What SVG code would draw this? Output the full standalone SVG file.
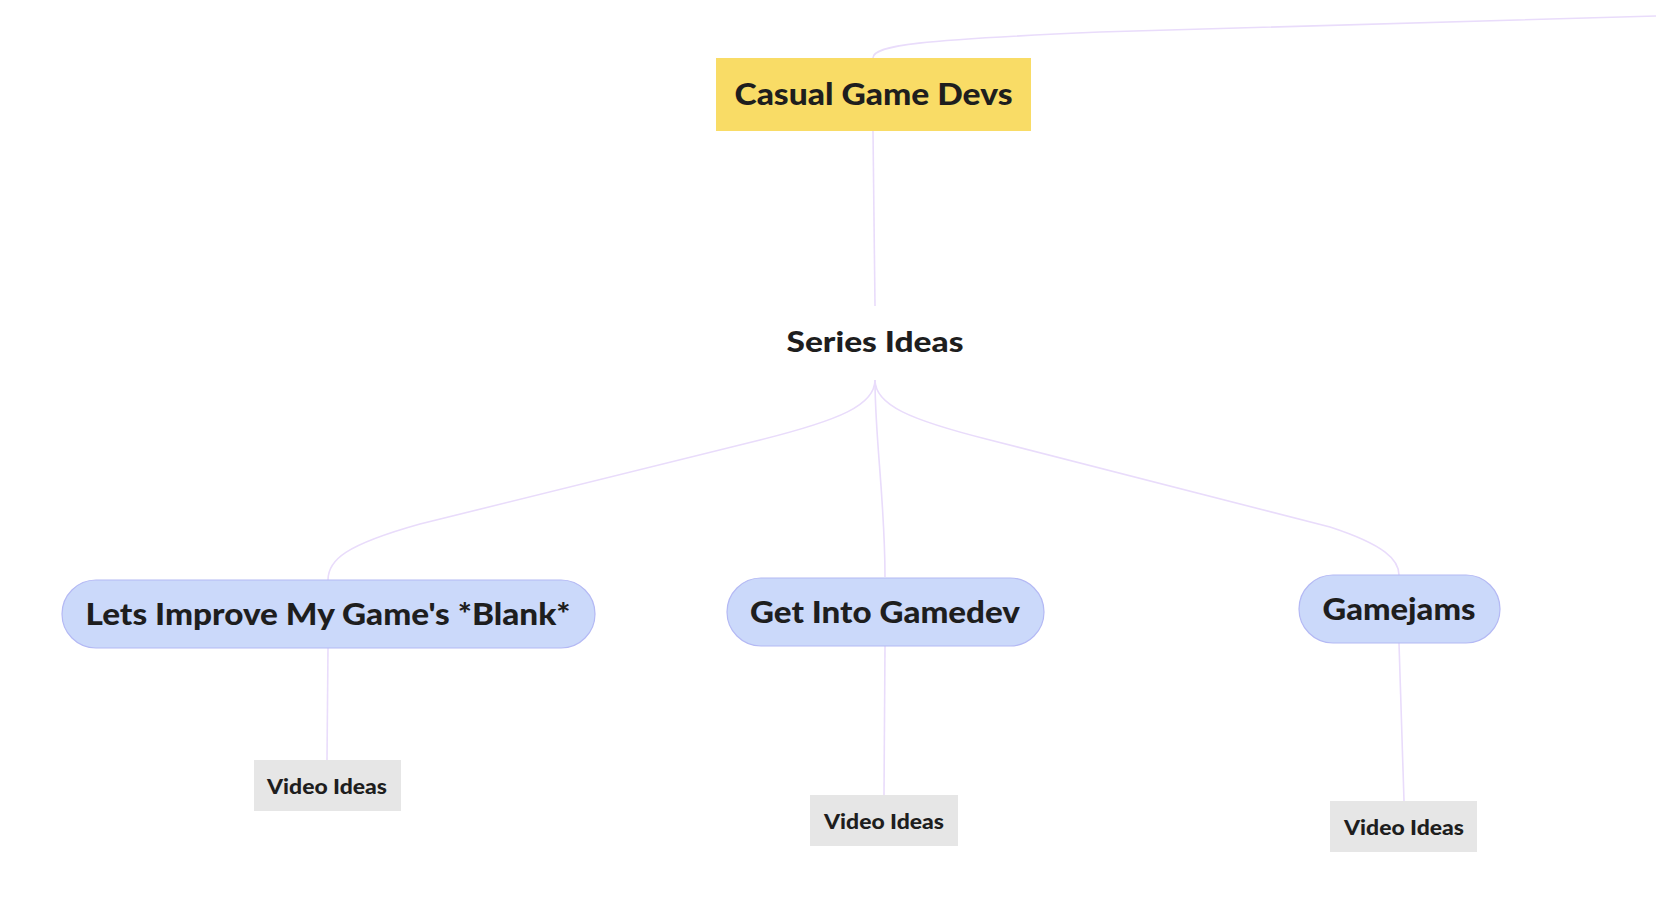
<svg xmlns="http://www.w3.org/2000/svg" width="1656" height="924" viewBox="0 0 1656 924">
<style>
text{font-family:Lato,"Noto Sans","Liberation Sans",sans-serif;font-weight:900;fill:#1e1e1e;text-anchor:middle;dominant-baseline:central}
.conn path{fill:none;stroke:#e9dcfb;stroke-width:1.6}
.pill{fill:#cbd9fa;stroke:#b4b9f4;stroke-width:1.2}
.vid{fill:#e6e6e6}
.t1{font-size:31px}
.t2{font-size:29px}
.t3{font-size:21px}
</style>
<rect width="1656" height="924" fill="#ffffff"/>
<g class="conn" id="connectors">
<path d="M873,58 C873,45 920,40 1100,32 L1656,16"/>
<path d="M873,131 L875,306"/>
<path d="M875,380 C875,405 840,420 760,440 L420,524 C345,545 328,560 328,580"/>
<path d="M875,380 C875,440 885,500 885,577"/>
<path d="M875,380 C875,405 910,420 990,440 L1330,527 C1385,545 1399,560 1399,575"/>
<path d="M328,648 L327,760"/>
<path d="M885,646 L884,795"/>
<path d="M1399,643 L1404,801"/>
</g>
<g id="node-casual">
<rect x="716" y="58" width="315" height="73" fill="#f9dc66"/>
<text class="t1" x="873.5" y="93" textLength="278" lengthAdjust="spacingAndGlyphs">Casual Game Devs</text>
</g>
<g id="node-series">
<text class="t2" x="875" y="340" textLength="177" lengthAdjust="spacingAndGlyphs">Series Ideas</text>
</g>
<g id="node-improve">
<rect class="pill" x="62" y="580" width="533" height="68" rx="34"/>
<text class="t1" x="328" y="613" textLength="485" lengthAdjust="spacingAndGlyphs">Lets Improve My Game's *Blank*</text>
</g>
<g id="node-gamedev">
<rect class="pill" x="727" y="578" width="317" height="68" rx="34"/>
<text class="t1" x="885" y="611" textLength="270" lengthAdjust="spacingAndGlyphs">Get Into Gamedev</text>
</g>
<g id="node-gamejams">
<rect class="pill" x="1299" y="575" width="201" height="68" rx="34"/>
<text class="t1" x="1399" y="608" textLength="153" lengthAdjust="spacingAndGlyphs">Gamejams</text>
</g>
<g id="node-video1">
<rect class="vid" x="254" y="760" width="147" height="51"/>
<text class="t3" x="327" y="785" textLength="120" lengthAdjust="spacingAndGlyphs">Video Ideas</text>
</g>
<g id="node-video2">
<rect class="vid" x="810" y="795" width="148" height="51"/>
<text class="t3" x="884" y="820" textLength="120" lengthAdjust="spacingAndGlyphs">Video Ideas</text>
</g>
<g id="node-video3">
<rect class="vid" x="1330" y="801" width="147" height="51"/>
<text class="t3" x="1404" y="826" textLength="120" lengthAdjust="spacingAndGlyphs">Video Ideas</text>
</g>
</svg>
